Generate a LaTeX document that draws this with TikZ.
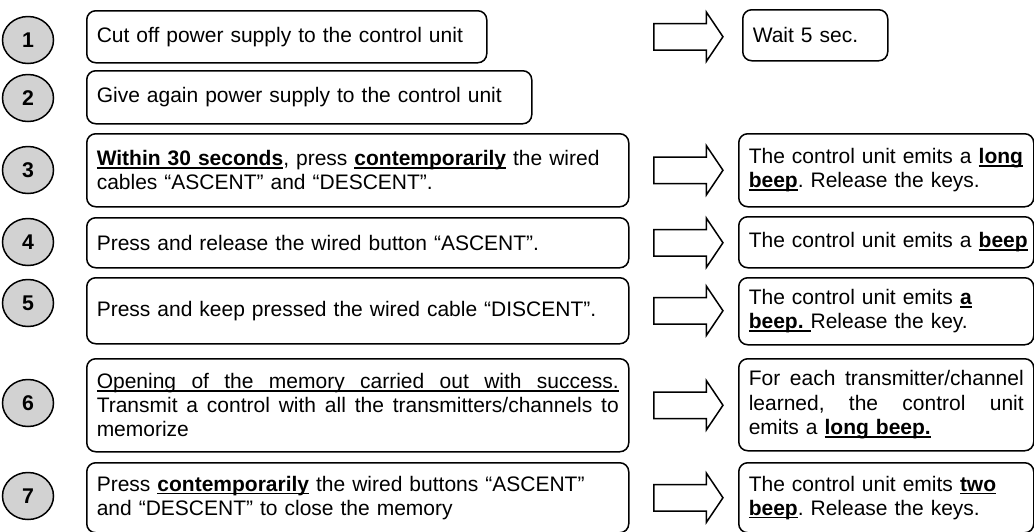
\documentclass[tikz,border=0pt]{standalone}
\usepackage{fontspec}
\setmainfont{Liberation Sans}
\usepackage{tikz}
\usetikzlibrary{positioning}
\usetikzlibrary{shapes,shapes.geometric,shapes.arrows}

% underlined text, rule set a little below the baseline
\newsavebox{\ulsave}
\newcommand{\ulin}[1]{\sbox{\ulsave}{#1}\mbox{\rlap{\rule[-3.2pt]{\wd\ulsave}{1.5pt}}\usebox{\ulsave}}}
\newcommand{\bu}[1]{\ulin{\textbf{#1}}}
% one line spread over a given width (words split by \hfill)
\newcommand{\fulline}[2]{\leavevmode\hbox to #1{#2}}

\begin{document}
\frenchspacing
\begin{tikzpicture}[x=1pt,y=-1pt]
\tikzstyle{num}=[ellipse, draw, line width=1.5pt, fill=gray!35, minimum width=51pt, minimum height=47pt, inner sep=0pt, font=\fontsize{21.3}{24.5}\selectfont\bfseries]
\tikzstyle{act}=[draw, line width=1.5pt, rounded corners=9pt, anchor=north west, inner xsep=10pt, inner ysep=0pt, align=left, font=\fontsize{21}{24.2}\selectfont]
\tikzstyle{res}=[act, text width=275pt]
\tikzstyle{arr}=[single arrow, draw, line width=1.5pt, minimum height=69pt, inner xsep=0pt, inner ysep=12.5pt, single arrow head extend=11.5pt, single arrow tip angle=112]
\useasboundingbox (0,0) rectangle (1034,531);

% step numbers
\node[num] (num1) at (28,40) {1};
\node[num] (num2) at (28,98) {2};
\node[num] (num3) at (28,170) {3};
\node[num] (num4) at (28,242) {4};
\node[num] (num5) at (28,303) {5};
\node[num] (num6) at (28,403) {6};
\node[num] (num7) at (28,496) {7};

% what to do
\node[act, text width=380pt, minimum height=52pt] (act1) at (86,10) {Cut off power supply to the control unit};
\node[act, text width=425pt, minimum height=53pt] (act2) at (86,70) {Give again power supply to the control unit};
\node[act, text width=522pt, minimum height=73pt] (act3) at (86,133) {\bu{Within 30 seconds}, press \bu{contemporarily} the wired\\cables “ASCENT” and “DESCENT”.};
\node[act, text width=522pt, minimum height=50pt] (act4) at (86,217) {Press and release the wired button “ASCENT”.};
\node[act, text width=522pt, minimum height=66pt] (act5) at (86,277) {Press and keep pressed the wired cable “DISCENT”.};
\node[act, text width=522pt, minimum height=93pt] (act6) at (86,358) {\ulin{\fulline{522pt}{Opening\hfill of\hfill the\hfill memory\hfill carried\hfill out\hfill with\hfill success.}}\\\fulline{522pt}{Transmit\hfill a\hfill control\hfill with\hfill all\hfill the\hfill transmitters/channels\hfill to}\\memorize};
\node[act, text width=522pt, minimum height=70pt] (act7) at (86,462) {Press \bu{contemporarily} the wired buttons “ASCENT”\\and “DESCENT” to close the memory};

% what the unit does
\node[res, text width=125pt, minimum height=51pt] (res1) at (742,9) {Wait 5 sec.};
\node[res, minimum height=73pt] (res3) at (738,133) {\mbox{The control unit emits a \bu{long}}\\\bu{beep}. Release the keys.};
\node[res, minimum height=51pt] (res4) at (738,216) {\mbox{The control unit emits a \bu{beep}}};
\node[res, minimum height=67pt] (res5) at (738,277) {The control unit emits \bu{a}\\\bu{beep.\ }Release the key.};
\node[res, minimum height=92pt] (res6) at (738,358) {\fulline{275pt}{For\hfill each\hfill transmitter/channel}\\\fulline{275pt}{learned,\hfill the\hfill control\hfill unit}\\emits a \bu{long beep.}};
\node[res, minimum height=70pt] (res7) at (738,462) {\mbox{The control unit emits \bu{two}}\\\bu{beep}. Release the keys.};

% block arrows
\coordinate (mid) at (684,0);
\node[arr] (arr1) at (mid |- act1) {};
\node[arr] (arr3) at (mid |- act3) {};
\node[arr] (arr4) at (mid |- act4) {};
\node[arr] (arr5) at (mid |- act5) {};
\node[arr] (arr6) at (mid |- act6) {};
\node[arr] (arr7) at (mid |- act7) {};
\end{tikzpicture}
\end{document}
